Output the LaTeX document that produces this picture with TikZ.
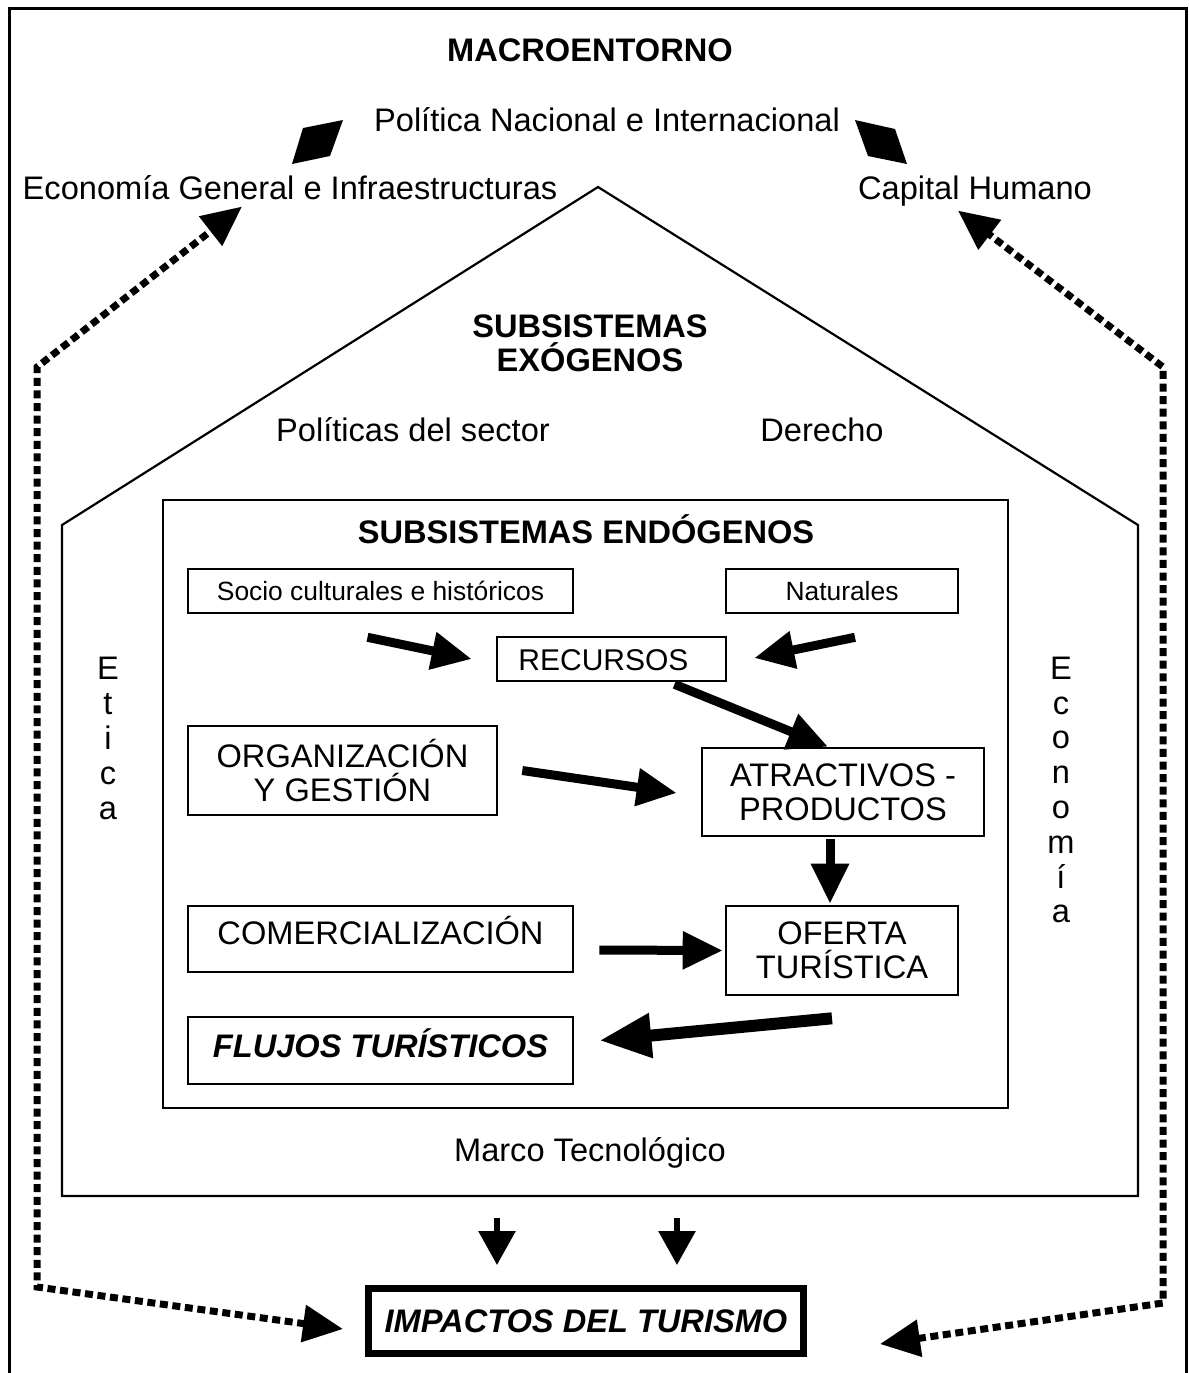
\documentclass[tikz,border=0pt]{standalone}
\usepackage{fontspec}
\setmainfont{Liberation Sans}
\usetikzlibrary{arrows.meta,calc}
\begin{document}
\begin{tikzpicture}[x=0.5pt,y=-0.5pt,
  fL/.style={font=\fontsize{16.3pt}{17pt}\selectfont},
  fM/.style={font=\fontsize{15pt}{16pt}\selectfont},
  fS/.style={font=\fontsize{13.2pt}{16pt}\selectfont},
  fB/.style={font=\fontsize{16.3pt}{17pt}\selectfont\bfseries},
  fBI/.style={font=\fontsize{16.3pt}{17pt}\selectfont\bfseries\itshape},
  box/.style={draw, line width=1.3pt, inner sep=0pt, align=center},
  plain/.style={inner sep=0pt, align=center},
  bigarr/.style={line width=4.5pt, -{Triangle[length=20pt,width=18pt]}},
  hugearr/.style={line width=6pt, -{Triangle[length=26pt,width=21pt]}},
  downarr/.style={line width=3pt, -{Triangle[length=17pt,width=18pt]}},
  dotarr/.style={line width=3.5pt, dash pattern=on 4pt off 2.3pt,
     {Triangle[length=20pt,width=18pt]}-{Triangle[length=20pt,width=18pt]}},
]
\useasboundingbox (0,0) rectangle (1189,1373);
\fill[white] (0,0) rectangle (1189,1373);

% outer frame
\draw[line width=1.5pt] (9,1373) -- (9,8) -- (1186,8) -- (1186,1373);

% macro environment texts
\node[plain,fB] (macro) at (590,50) {MACROENTORNO};
\node[plain,fL] (pol) at (607,120) {Política Nacional e Internacional};
\node[plain,fL] (econ) at (290,188) {Economía General e Infraestructuras};
\node[plain,fL] (cap) at (975,191) {Capital Humano};

% double diamond arrows
\fill (292,164) -- (303,128) -- (343,120) -- (330,156) -- cycle;
\fill (855,120) -- (895,129) -- (907,164) -- (868,156) -- cycle;

% house
\draw[line width=1.1pt] (598,187) -- (1138,525) -- (1138,1196) -- (62,1196) -- (62,525) -- cycle;
\node[plain,fB] (exo) at (590,343) {SUBSISTEMAS\\EXÓGENOS};
\node[plain,fL] (polsec) at (413,430) {Políticas del sector};
\node[plain,fL] (der) at (822,430) {Derecho};
\node[plain,font=\fontsize{16.3pt}{17.5pt}\selectfont] (etica) at (108,738) {E\\t\\i\\c\\a};
\node[plain,font=\fontsize{16.3pt}{17.4pt}\selectfont] (ecov) at (1061,790) {E\\c\\o\\n\\o\\m\\í\\a};
\node[plain,fL] (marco) at (590,1153) {Marco Tecnológico};

% inner rectangle
\draw[line width=1.3pt] (163,500) rectangle (1008,1108);
\node[plain,fB] (endo) at (586,529) {SUBSISTEMAS ENDÓGENOS};

% boxes
\node[box,fS,minimum width=192.5pt,minimum height=22pt] (socio) at (380.5,591) {Socio culturales e históricos};
\node[box,fS,minimum width=116pt,minimum height=22pt] (nat) at (842,591) {Naturales};
\node[box,fM,minimum width=114.5pt,minimum height=22pt,text height=11pt,text depth=0pt] (rec) at (611.5,659) {\hspace*{-8pt}RECURSOS};
\node[box,fL,minimum width=154.5pt,minimum height=44.5pt] (org) at (342.5,770.5) {ORGANIZACIÓN\\Y GESTIÓN};
\node[box,fL,minimum width=141pt,minimum height=44pt] (atr) at (843,792) {ATRACTIVOS -\\PRODUCTOS};
\node[box,fL,minimum width=192.5pt,minimum height=33pt,text height=12pt,text depth=6.3pt] (com) at (380.5,939) {COMERCIALIZACIÓN};
\node[box,fL,minimum width=116pt,minimum height=44.5pt] (ofe) at (842,950.5) {OFERTA\\TURÍSTICA};
\node[box,fBI,minimum width=192.5pt,minimum height=33.5pt,text height=12pt,text depth=4.8pt] (flu) at (380.5,1050.5) {FLUJOS TURÍSTICOS};
\node[box,fBI,line width=3.5pt,minimum width=217.5pt,minimum height=32.5pt] (imp) at (586,1321) {IMPACTOS DEL TURISMO};

% internal arrows
\draw[bigarr] ($(socio.south)+(-13,23)$) -- ($(rec.west)+(-24,0)$);
\draw[bigarr] ($(nat.south)+(13,23)$) -- ($(rec.east)+(27,-1)$);
\draw[bigarr] ($(rec.south)+(63,2)$) -- ($(atr.north)+(-15,0)$);
\draw[bigarr] ($(org.east)+(24,0)$) -- ($(atr.west)+(-24,1)$);
\draw[bigarr] ($(atr.south)+(-13,2)$) -- ($(ofe.north)+(-12,-1)$);
\draw[bigarr] ($(com.east)+(25,11)$) -- ($(ofe.west)+(-2,0)$);
\draw[hugearr] ($(ofe.south)+(-10,22)$) -- ($(flu.east)+(25,-10)$);

% arrows to impacts
\draw[downarr] ($(imp.north)+(-89,-67)$) -- ($(imp.north)+(-89,-20)$);
\draw[downarr] ($(imp.north)+(91,-67)$) -- ($(imp.north)+(91,-20)$);

% dotted arrows
\coordinate (lb) at (37,1287);
\coordinate (lt) at (37,367);
\coordinate (rb) at (1163,1303);
\coordinate (rt) at (1163,367);
\draw[dotarr] ($(imp.west)+(-22,8)$) -- (lb) -- (lt) -- ($(econ.south)+(-48,6)$);
\draw[dotarr] ($(imp.east)+(73,23)$) -- (rb) -- (rt) -- ($(cap.south)+(-17,4)$);
\end{tikzpicture}
\end{document}
